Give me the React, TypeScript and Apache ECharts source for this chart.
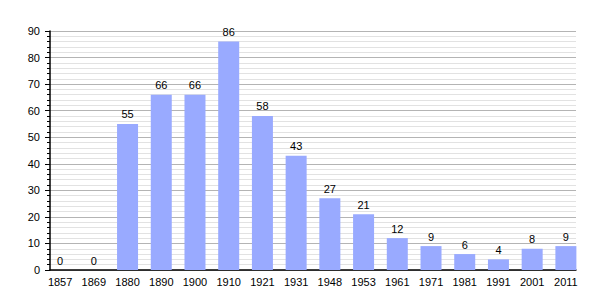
import React, { useEffect, useRef } from "react";
import * as echarts from "echarts";

const years = ["1857", "1869", "1880", "1890", "1900", "1910", "1921", "1931", "1948", "1953", "1961", "1971", "1981", "1991", "2001", "2011"];
const population = [0, 0, 55, 66, 66, 86, 58, 43, 27, 21, 12, 9, 6, 4, 8, 9];
const yTicks = [0, 10, 20, 30, 40, 50, 60, 70, 80, 90];

export default function App() {
  const ref = useRef<HTMLDivElement>(null);
  useEffect(() => {
    const chart = echarts.init(ref.current!, undefined, { renderer: "svg" });
    const font = "Liberation Sans, Arial, sans-serif";
    chart.setOption({
      animation: false,
      grid: { left: 50, right: 29, top: 31, bottom: 30 },
      xAxis: {
        type: "value",
        min: -0.3,
        max: years.length - 1 + 0.3,
        splitLine: { show: false },
        axisLine: { show: true, onZero: false, lineStyle: { color: "#000", width: 1.5 } },
        axisTick: { show: false },
        axisLabel: {
          customValues: years.map((_, i) => i),
          formatter: (v: number) => years[Math.round(v)],
          color: "#000",
          fontSize: 11,
          fontFamily: font,
          margin: 6,
        },
      },
      yAxis: {
        type: "value",
        min: 0,
        max: 90,
        interval: 10,
        axisLine: { show: true, onZero: false, lineStyle: { color: "#000", width: 1.5 } },
        axisTick: { show: true, length: 5, lineStyle: { color: "#000" } },
        minorTick: { show: true, splitNumber: 5, length: 3, lineStyle: { color: "#000" } },
        splitLine: { show: true, lineStyle: { color: "#b4b4b4", width: 1 } },
        minorSplitLine: { show: true, lineStyle: { color: "#e2e2e2", width: 1 } },
        axisLabel: {
          color: "#000",
          fontSize: 11,
          fontFamily: font,
          margin: 10,
          customValues: yTicks,
        },
      },
      series: [
        {
          type: "bar",
          barWidth: 21,
          data: population.map((v, i) => [i, v]),
          itemStyle: { color: "#99aaff" },
          label: {
            show: true,
            position: "top",
            distance: 4,
            color: "#000",
            fontSize: 11,
            fontFamily: font,
            formatter: (p: any) => String(p.value[1]),
          },
        },
      ],
    });
    return () => chart.dispose();
  }, []);
  return <div ref={ref} style={{ width: 605, height: 300, margin: -8, background: "#fff" }} />;
}
